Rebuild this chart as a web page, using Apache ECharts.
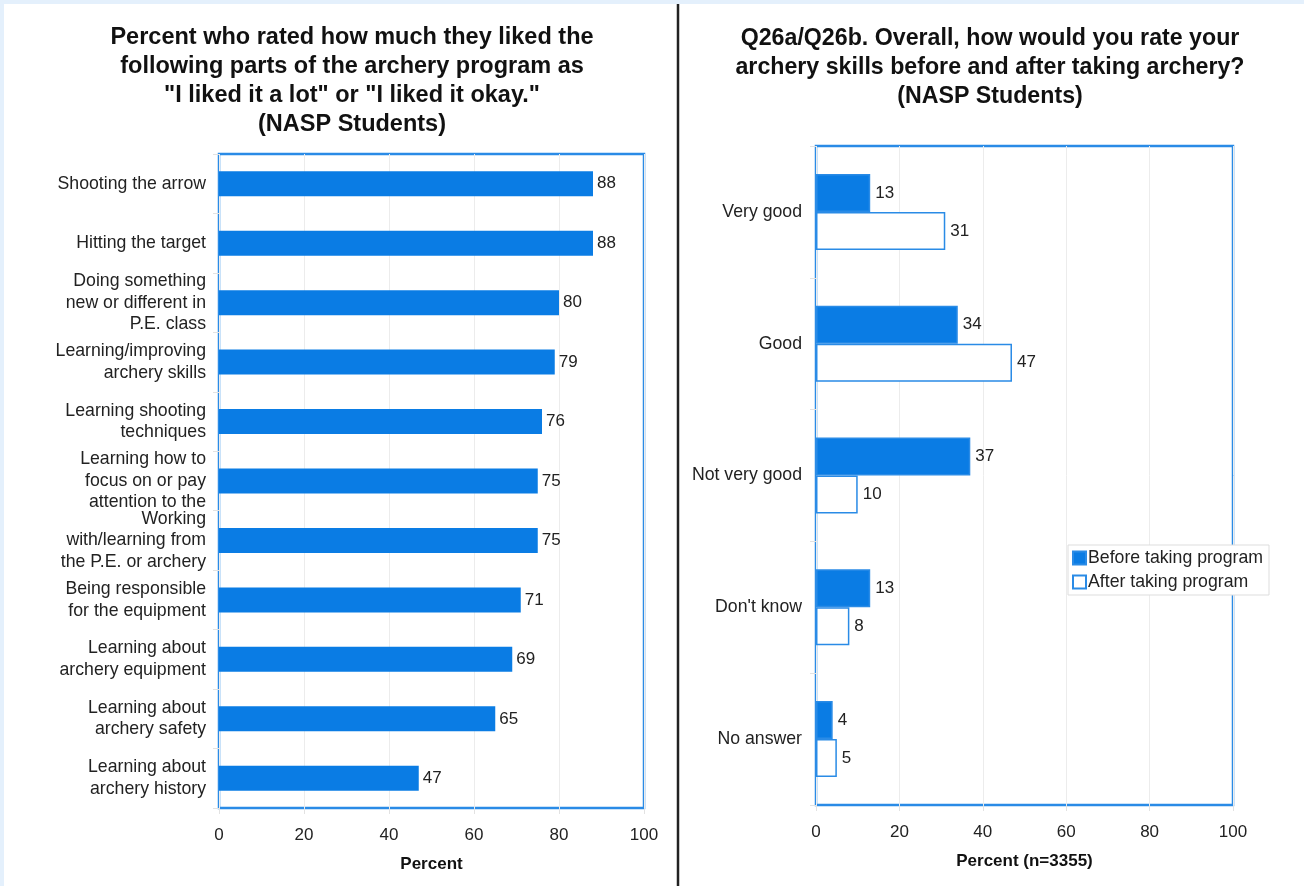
<!DOCTYPE html>
<html>
<head>
<meta charset="utf-8">
<script src="https://cdn.jsdelivr.net/npm/echarts@6/dist/echarts.min.js"></script>
<style>
html,body{margin:0;padding:0;background:#fff;}
#c{width:1304px;height:886px;}
</style>
</head>
<body>
<div id="c"></div>
<script>
const leftCategories = [
  "Shooting the arrow",
  "Hitting the target",
  "Doing something\nnew or different in\nP.E. class",
  "Learning/improving\narchery skills",
  "Learning shooting\ntechniques",
  "Learning how to\nfocus on or pay\nattention to the",
  "Working\nwith/learning from\nthe P.E. or archery",
  "Being responsible\nfor the equipment",
  "Learning about\narchery equipment",
  "Learning about\narchery safety",
  "Learning about\narchery history"
];
const leftValues = [88, 88, 80, 79, 76, 75, 75, 71, 69, 65, 47];

const rightCategories = ["Very good", "Good", "Not very good", "Don't know", "No answer"];
const beforeValues = [13, 34, 37, 13, 4];
const afterValues = [31, 47, 10, 8, 5];
const seriesNames = ["Before taking program", "After taking program"];

const leftTitle = 'Percent who rated how much they liked the\nfollowing parts of the archery program as\n"I liked it a lot" or "I liked it okay."\n(NASP Students)';
const rightTitle = 'Q26a/Q26b. Overall, how would you rate your\narchery skills before and after taking archery?\n(NASP Students)';

const FONT = "'Liberation Sans', Arial, Helvetica, sans-serif";
const BLUE = '#0a7ce4';
const BORDER = '#2a8be6';

const chart = echarts.init(document.getElementById('c'), null, {renderer: 'canvas'});

const valueAxisCommon = {
  type: 'value', min: 0, max: 100, interval: 20,
  axisLine: {show: false},
  axisTick: {show: true, length: 6, lineStyle: {color: '#e2e2e2'}},
  splitLine: {show: true, lineStyle: {color: '#ececec', width: 1}},
  axisLabel: {color: '#222', fontSize: 17, fontFamily: FONT, margin: 19},
  nameLocation: 'middle',
  nameTextStyle: {color: '#111', fontSize: 17, fontWeight: 'bold', fontFamily: FONT}
};

chart.setOption({
  animation: false,
  backgroundColor: '#fff',
  textStyle: {fontFamily: FONT},
  title: [
    {text: leftTitle, left: 347, top: 18, textAlign: 'center',
     textStyle: {fontSize: 23.5, fontWeight: 'bold', color: '#111', lineHeight: 29, fontFamily: FONT}},
    {text: rightTitle, left: 985, top: 19, textAlign: 'center',
     textStyle: {fontSize: 23.2, fontWeight: 'bold', color: '#111', lineHeight: 29, fontFamily: FONT}}
  ],
  legend: {
    data: seriesNames,
    orient: 'vertical',
    left: 1068, top: 545,
    backgroundColor: '#fff',
    borderColor: '#ddd', borderWidth: 1,
    padding: [4, 6, 4, 4],
    itemGap: 6,
    itemWidth: 13, itemHeight: 13,
    icon: 'rect',
    textStyle: {fontSize: 17.7, color: '#222', fontFamily: FONT, padding: [0, 0, 0, -3]},
    selectedMode: false
  },
  grid: [
    {left: 219, right: 660, top: 154, bottom: 78, show: true, borderColor: BORDER, borderWidth: 2.5, backgroundColor: 'transparent'},
    {left: 816, right: 71, top: 146, bottom: 81, show: true, borderColor: BORDER, borderWidth: 2.5, backgroundColor: 'transparent'}
  ],
  xAxis: [
    Object.assign({}, valueAxisCommon, {gridIndex: 0, name: 'Percent', nameGap: 48}),
    Object.assign({}, valueAxisCommon, {gridIndex: 1, name: 'Percent (n=3355)', nameGap: 48})
  ],
  yAxis: [
    {type: 'category', gridIndex: 0, data: leftCategories, inverse: true,
     axisLine: {show: false},
     axisTick: {show: true, length: 6, lineStyle: {color: '#e2e2e2'}},
     axisLabel: {color: '#222', fontSize: 17.7, fontFamily: FONT, margin: 13, lineHeight: 21.5}},
    {type: 'category', gridIndex: 1, data: rightCategories, inverse: true,
     axisLine: {show: false},
     axisTick: {show: true, length: 6, lineStyle: {color: '#e2e2e2'}},
     axisLabel: {color: '#222', fontSize: 17.7, fontFamily: FONT, margin: 14}}
  ],
  series: [
    {type: 'bar', xAxisIndex: 0, yAxisIndex: 0, data: leftValues, barWidth: 25,
     itemStyle: {color: BLUE},
     label: {show: true, position: 'right', distance: 4, color: '#222', fontSize: 17, fontFamily: FONT}},
    {name: seriesNames[0], type: 'bar', xAxisIndex: 1, yAxisIndex: 1, data: beforeValues, barWidth: 38, barGap: '0%',
     itemStyle: {color: BLUE, borderColor: BORDER, borderWidth: 1.5},
     label: {show: true, position: 'right', distance: 5, color: '#222', fontSize: 17, fontFamily: FONT}},
    {name: seriesNames[1], type: 'bar', xAxisIndex: 1, yAxisIndex: 1, data: afterValues, barWidth: 38, barGap: '0%',
     itemStyle: {color: '#fff', borderColor: BORDER, borderWidth: 1.5},
     label: {show: true, position: 'right', distance: 5, color: '#222', fontSize: 17, fontFamily: FONT}}
  ],
  graphic: [
    {type: 'rect', shape: {x: 0, y: 0, width: 1304, height: 4}, style: {fill: '#e4f0fc'}, silent: true},
    {type: 'rect', shape: {x: 0, y: 0, width: 4, height: 886}, style: {fill: '#e4f0fc'}, silent: true},
    {type: 'line', shape: {x1: 678, y1: 4, x2: 678, y2: 886}, style: {stroke: '#222', lineWidth: 2.5}, silent: true}
  ]
});
</script>
</body>
</html>
